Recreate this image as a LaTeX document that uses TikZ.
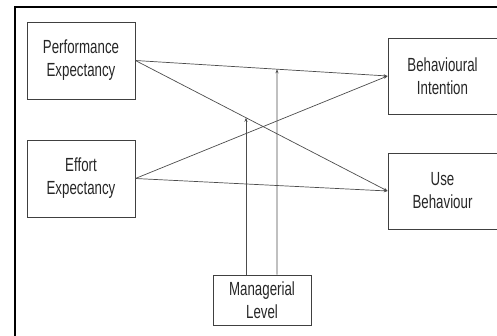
\documentclass[tikz,border=0pt]{standalone}
\usepackage{fontspec}
\setmainfont{Liberation Sans}[FakeStretch=0.7]
\usetikzlibrary{arrows.meta}

\tikzset{
  factor/.style={draw=black!75,line width=0.8pt,align=center,inner sep=2pt,
    font=\fontsize{19}{23}\selectfont,text=black!85},
  link/.style={draw=black!70,line width=0.7pt,-{Stealth[length=4pt,width=3pt]}}
}

\begin{document}
\begin{tikzpicture}[x=1pt,y=1pt]
\useasboundingbox (0,0) rectangle (497,335);
\draw[line width=2pt] (15,-5) -- (15,328) -- (505,328);

\node[factor,minimum width=108pt,minimum height=77pt] (PE) at (81,274.5) {Performance\\Expectancy};
\node[factor,minimum width=108pt,minimum height=77pt] (EE) at (81,156.5) {Effort\\Expectancy};
\node[factor,minimum width=109pt,minimum height=76pt] (BI) at (442.5,259) {Behavioural\\Intention};
\node[factor,minimum width=109pt,minimum height=76pt] (UB) at (442.5,144) {Use\\Behaviour};
\node[factor,minimum width=98pt,minimum height=50pt] (ML) at (262,35) {Managerial\\Level};

\draw[link] (PE.east) -- (BI.west);
\draw[link] (PE.east) -- (UB.west);
\draw[link] (EE.east) -- (BI.west);
\draw[link] (EE.east) -- (UB.west);

% moderating arrows
\coordinate (m1) at ([xshift=-16pt]ML.north);
\coordinate (m1up) at ([xshift=-16pt,yshift=200pt]ML.north);
\coordinate (m2) at ([xshift=15pt]ML.north);
\coordinate (m2up) at ([xshift=15pt,yshift=250pt]ML.north);
\draw[link] (m1) -- (intersection of PE.east--UB.west and m1--m1up);
\draw[link] (m2) -- (intersection of PE.east--BI.west and m2--m2up);
\end{tikzpicture}
\end{document}
